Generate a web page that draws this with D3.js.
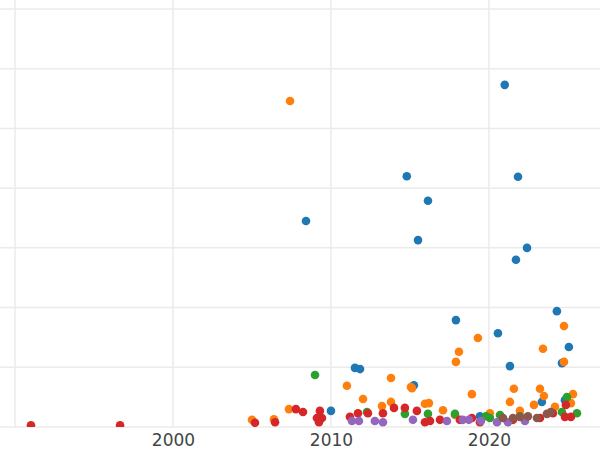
<!DOCTYPE html>
<html><head><meta charset="utf-8">
<script src="https://cdn.jsdelivr.net/npm/d3@7"></script>
<style>body{margin:0;background:#fff}</style></head>
<body><svg id="c" width="600" height="450"></svg>
<script>
const xTicks=[1990,2000,2010,2020];
const xTickLabels=["","2000","2010","2020"];
const yTicks=[0,1,2,3,4,5,6,7];
const blueX=[2021.0,2014.8,2016.14,2008.42,2021.84,2015.51,2022.41,2021.71,2024.3,2017.91,2020.57,2025.06,2011.52,2011.84,2021.33,2024.62,2015.25,2010.0,2023.35,2024.81,2019.43];
const blueY=[5.73,4.2,3.79,3.45,4.19,3.13,3.0,2.8,1.94,1.79,1.57,1.34,0.99,0.97,1.02,1.07,0.7,0.27,0.42,0.45,0.18];
const orangeX=[2007.41,2024.75,2019.3,2018.1,2023.42,2017.91,2024.75,2013.8,2011.01,2021.58,2023.23,2015.06,2018.92,2012.03,2023.48,2025.32,2013.23,2013.8,2007.34,2005.0,2006.39,2015.13,2015.95,2016.2,2017.09,2021.33,2021.96,2022.85,2024.18,2025.19,2017.85,2020.06];
const orangeY=[5.46,1.69,1.49,1.26,1.31,1.09,1.09,0.82,0.69,0.64,0.64,0.67,0.55,0.47,0.52,0.55,0.35,0.42,0.3,0.12,0.13,0.65,0.39,0.4,0.28,0.42,0.27,0.37,0.34,0.4,0.2,0.23];
const greenX=[2008.99,2024.94,2016.14,2017.85,2019.81,2021.96,2025.57,2012.28,2014.68,2020.06,2020.7,2024.62];
const greenY=[0.87,0.5,0.22,0.22,0.18,0.18,0.23,0.25,0.22,0.15,0.2,0.25];
const redX=[1991.01,1996.65,2005.19,2006.46,2007.78,2008.23,2009.3,2009.11,2009.43,2009.24,2011.71,2011.2,2012.34,2013.29,2013.99,2014.68,2015.44,2015.95,2016.9,2018.16,2018.92,2021.52,2023.23,2024.05,2024.87,2025.19,2024.81,2016.27,2019.43];
const redY=[0.03,0.03,0.07,0.08,0.3,0.25,0.27,0.15,0.15,0.08,0.23,0.17,0.23,0.23,0.32,0.32,0.27,0.08,0.12,0.12,0.15,0.12,0.15,0.23,0.37,0.17,0.17,0.1,0.08];
const purpleX=[2011.33,2011.77,2012.78,2013.29,2015.19,2017.34,2018.35,2018.73,2019.49,2020.51,2021.2,2022.28];
const purpleY=[0.1,0.1,0.1,0.08,0.12,0.1,0.12,0.12,0.1,0.08,0.08,0.1];
const brownX=[2020.89,2021.52,2021.96,2022.47,2023.04,2023.92,2023.67];
const brownY=[0.15,0.15,0.17,0.18,0.15,0.25,0.22];

const series=[[blueX,blueY,"#1f77b4"],[orangeX,orangeY,"#ff7f0e"],[greenX,greenY,"#2ca02c"],[redX,redY,"#d62728"],[purpleX,purpleY,"#9467bd"],[brownX,brownY,"#8c564b"]];
const svg=d3.select("#c");
const W=600,B=427;
const x=d3.scaleLinear().domain([1989.05,2027.03]).range([0,W]);
const y=d3.scaleLinear().domain([0,7]).range([B,9]);
const g=svg.append("g");
g.selectAll(".vg").data(xTicks).join("line").attr("x1",d=>x(d)).attr("x2",d=>x(d)).attr("y1",0).attr("y2",B).attr("stroke","#ebebeb").attr("stroke-width",1.5);
g.selectAll(".hg").data(yTicks).join("line").attr("x1",0).attr("x2",W).attr("y1",d=>y(d)).attr("y2",d=>y(d)).attr("stroke","#ebebeb").attr("stroke-width",1.5);
svg.append("defs").append("clipPath").attr("id","cp").append("rect").attr("x",0).attr("y",0).attr("width",W).attr("height",B);
const pg=svg.append("g").attr("clip-path","url(#cp)");
series.forEach(([xs,ys,c])=>{
  pg.selectAll(null).data(xs.map((v,i)=>[v,ys[i]])).join("circle")
   .attr("cx",d=>x(d[0])).attr("cy",d=>y(d[1])).attr("r",4.3).attr("fill",c);
});
const ax=svg.append("g").attr("transform",`translate(0,${B})`)
 .call(d3.axisBottom(x).tickValues(xTicks).tickFormat((d,i)=>xTickLabels[i]).tickSize(0).tickPadding(7));
ax.select(".domain").remove();
ax.selectAll("text").attr("fill","#444").style("font-family","DejaVu Sans").style("font-size","17px");
</script></body></html>
